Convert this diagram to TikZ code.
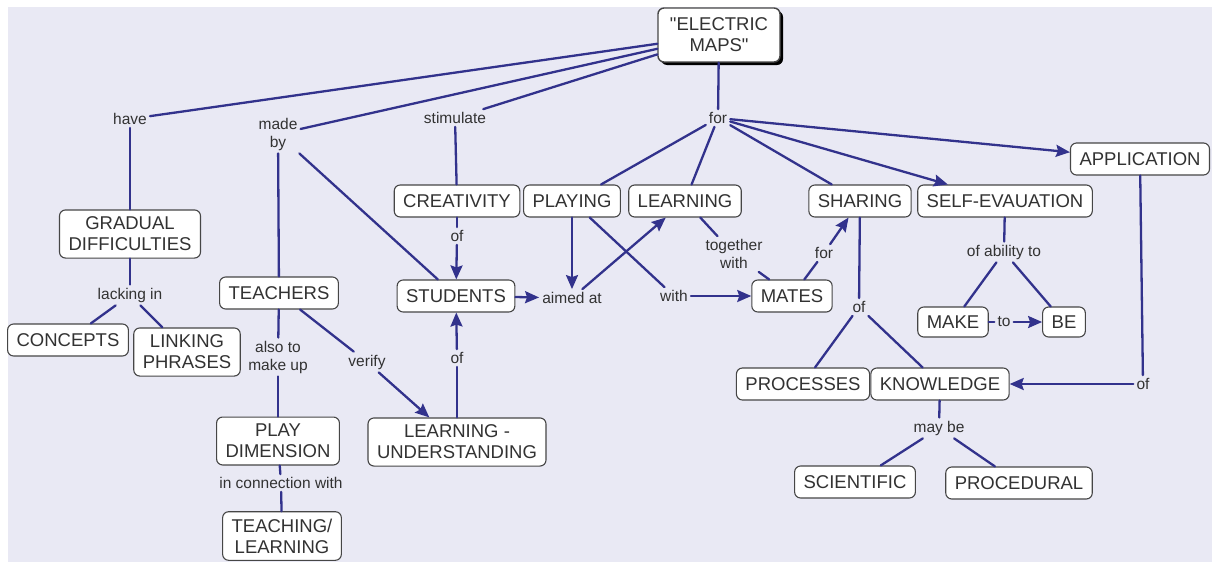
\documentclass[tikz,border=0pt]{standalone}
\usepackage{fontspec}
\setmainfont{Liberation Sans}
\usepackage{tikz}
\usetikzlibrary{arrows.meta,shadows}
\usepackage{xcolor}
\definecolor{mapbg}{RGB}{233,233,244}
\definecolor{mapline}{RGB}{50,50,140}
\definecolor{maptext}{RGB}{50,50,50}
\definecolor{mapedge}{RGB}{70,70,70}

\begin{document}
\begin{tikzpicture}[x=1pt,y=-1pt,>={Stealth[length=14pt,width=12pt,inset=2pt]},line cap=round,
  concept/.style={draw=mapedge,line width=1.1pt,fill=white,rounded corners=6pt,text=maptext,
    font=\fontsize{18.5}{21}\selectfont,align=center,inner xsep=9pt,inner ysep=7pt,minimum height=32pt},
  lnk/.style={text=maptext,font=\fontsize{15.5}{18}\selectfont,align=center,inner sep=3pt},
  link/.style={draw=mapline,line width=2.3pt}]
\useasboundingbox (0,0) rectangle (1212,562);
\fill[white] (0,0) rectangle (1212,562);
\fill[mapbg] (8,7) rectangle (1212,562);

% concepts
\node[concept,line width=1.4pt,drop shadow={shadow xshift=3pt,shadow yshift=-3pt,fill=black,opacity=1},
  minimum width=122pt,minimum height=54pt] (emaps) at (719,35) {\textquotedbl ELECTRIC\\MAPS\textquotedbl};
\node[concept] (gradual) at (130,234) {GRADUAL\\DIFFICULTIES};
\node[concept] (concepts) at (68,340) {CONCEPTS};
\node[concept] (linking) at (187,352) {LINKING\\PHRASES};
\node[concept] (teachers) at (279,293) {TEACHERS};
\node[concept] (playdim) at (278,441) {PLAY\\DIMENSION};
\node[concept] (teachlearn) at (282,536) {TEACHING/\\LEARNING};
\node[concept] (creativity) at (457,201) {CREATIVITY};
\node[concept] (playing) at (572,201) {PLAYING};
\node[concept] (learning) at (685,201) {LEARNING};
\node[concept] (students) at (456,296) {STUDENTS};
\node[concept] (learnund) at (457,442) {LEARNING -\\UNDERSTANDING};
\node[concept] (sharing) at (860,201) {SHARING};
\node[concept] (selfev) at (1005,201) {SELF-EVAUATION};
\node[concept] (application) at (1140,159) {APPLICATION};
\node[concept] (mates) at (792,296) {MATES};
\node[concept,minimum height=30pt] (make) at (953,322) {MAKE};
\node[concept,minimum height=30pt] (be) at (1064,322) {BE};
\node[concept] (processes) at (803,384) {PROCESSES};
\node[concept] (knowledge) at (940,384) {KNOWLEDGE};
\node[concept] (scientific) at (855,482) {SCIENTIFIC};
\node[concept] (procedural) at (1019,483) {PROCEDURAL};

% linking phrases
\node[lnk] (have) at (130,119) {have};
\node[lnk] (madeby) at (278,134) {made\\by};
\node[lnk] (stimulate) at (455,118) {stimulate};
\node[lnk] (for) at (718,118) {for};
\node[lnk] (lacking) at (130,295) {lacking in};
\node[lnk] (alsoto) at (278,357) {also to\\make up};
\node[lnk] (verify) at (367,362) {verify};
\node[lnk] (ofcre) at (457,236) {of};
\node[lnk] (aimed) at (572,298) {aimed at};
\node[lnk] (with) at (674,296) {with};
\node[lnk] (together) at (734,254) {together\\with};
\node[lnk] (ofund) at (457,358) {of};
\node[lnk] (formates) at (824,253) {for};
\node[lnk] (ofability) at (1004,252) {of ability to};
\node[lnk] (to) at (1004,322) {to};
\node[lnk] (ofshare) at (859,307) {of};
\node[lnk] (ofappl) at (1143,384) {of};
\node[lnk] (maybe) at (939,428) {may be};
\node[lnk] (inconn) at (281,483) {in connection with};

% connectors
\draw[link] (emaps) -- (have);
\draw[link] (have) -- (gradual);
\draw[link] (gradual) -- (lacking);
\draw[link] (lacking) -- (concepts);
\draw[link] (lacking) -- (linking);
\draw[link] (emaps) -- (madeby);
\draw[link] (madeby) -- (teachers);
\draw[link] (madeby) -- (students);
\draw[link] (emaps) -- (stimulate);
\draw[link] (stimulate) -- (creativity);
\draw[link] (creativity) -- (ofcre);
\draw[link,->] (ofcre) -- (students);
\draw[link] (emaps) -- (for);
\draw[link] (for) -- (playing);
\draw[link] (for) -- (learning);
\draw[link] (for) -- (sharing);
\draw[link,->] (for) -- (selfev);
\draw[link,->] (for) -- (application);
\draw[link,->] (students) -- (aimed);
\draw[link,->] (playing) -- (aimed);
\draw[link,->] (aimed) -- (learning);
\draw[link] (playing) -- (with);
\draw[link,->] (with) -- (mates);
\draw[link] (learning) -- (together);
\draw[link] (together) -- (mates);
\draw[link] (mates) -- (formates);
\draw[link,->] (formates) -- (sharing);
\draw[link] (sharing) -- (ofshare);
\draw[link] (ofshare) -- (processes);
\draw[link] (ofshare) -- (knowledge);
\draw[link] (selfev) -- (ofability);
\draw[link] (ofability) -- (make);
\draw[link] (ofability) -- (be);
\draw[link] (make) -- (to);
\draw[link,->] (to) -- (be);
\draw[link] (application) -- (ofappl);
\draw[link,->] (ofappl) -- (knowledge);
\draw[link] (knowledge) -- (maybe);
\draw[link] (maybe) -- (scientific);
\draw[link] (maybe) -- (procedural);
\draw[link] (teachers) -- (alsoto);
\draw[link] (alsoto) -- (playdim);
\draw[link] (teachers) -- (verify);
\draw[link,->] (verify) -- (learnund);
\draw[link] (learnund) -- (ofund);
\draw[link,->] (ofund) -- (students);
\draw[link] (playdim) -- (inconn);
\draw[link] (inconn) -- (teachlearn);
\end{tikzpicture}
\end{document}
